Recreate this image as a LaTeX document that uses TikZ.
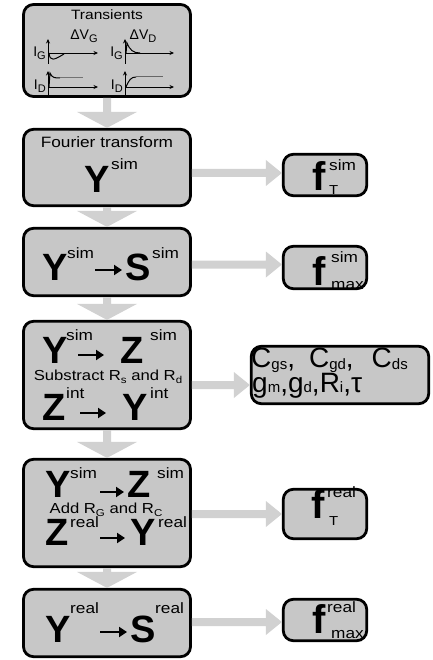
\documentclass[tikz,border=0pt]{standalone}
\usepackage{fontspec}
\setmainfont{Liberation Sans}
\newfontfamily\wf[FakeStretch=1.15]{Liberation Sans}
\usetikzlibrary{arrows.meta,calc}
\newcommand\fs[1]{\fontsize{#1}{#1}\selectfont}
\newcommand\lo[2]{\raisebox{-#1}{#2}}
\newcommand\varrow[2]{\fill[flow] let \p1=(#1.south), \p2=(#2.north) in
  (\x1-4pt,\y1) -- (\x1+4pt,\y1) -- (\x1+4pt,\y2+16pt) -- (\x1+30pt,\y2+16pt) -- (\x1,\y2)
  -- (\x1-30pt,\y2+16pt) -- (\x1-4pt,\y2+16pt) -- cycle;}
\newcommand\harrow[3]{\fill[flow] let \p1=(#1.east), \p2=(#2.west), \n1={\y2+#3} in
  (\x1,\n1+4pt) -- (\x2-16pt,\n1+4pt) -- (\x2-16pt,\n1+13pt) -- (\x2,\n1)
  -- (\x2-16pt,\n1-13pt) -- (\x2-16pt,\n1-4pt) -- (\x1,\n1-4pt) -- cycle;}
\begin{document}
\begin{tikzpicture}[x=1pt,y=-1pt,
 box/.style={draw, line width=2.8pt, rounded corners=10pt, fill=black!22, inner sep=0pt},
 big/.style={font=\fs{38}\bfseries, inner sep=0pt, anchor=base west},
 sup/.style={font=\wf\fs{15}, inner sep=0pt, anchor=base west},
 fbig/.style={font=\fs{40}\bfseries, inner sep=0pt, anchor=base west},
 lbl/.style={font=\wf\fs{14.5}, inner sep=0pt},
 small/.style={font=\fs{14}, inner sep=0pt},
 flow/.style={fill=black!18},
 inarrow/.style={line width=2.6pt, -{Triangle[length=8pt,width=10pt]}},
 ax/.style={line width=0.9pt, -{Stealth[length=4.5pt,width=4pt]}},
 curve/.style={line width=1pt},
]
\useasboundingbox (0,0) rectangle (432,660);
% left column boxes
\node[box, minimum width=167pt, minimum height=92pt] (b1) at (107,50.5) {};
\node[box, minimum width=167pt, minimum height=76.4pt] (b2) at (107,167.5) {};
\node[box, minimum width=167pt, minimum height=67.4pt] (b3) at (107,262) {};
\node[box, minimum width=167pt, minimum height=107.4pt] (b4) at (107,375) {};
\node[box, minimum width=167pt, minimum height=107.4pt] (b5) at (107,513) {};
\node[box, minimum width=167pt, minimum height=67.4pt] (b6) at (107,623) {};
% right column boxes
\node[box, minimum width=83.4pt, minimum height=41.4pt] (r1) at (325,175) {};
\node[box, minimum width=83.4pt, minimum height=42.4pt] (r2) at (325,267.5) {};
\node[box, minimum width=177.4pt, minimum height=57.4pt] (r3) at (340,375) {};
\node[box, minimum width=83.4pt, minimum height=49.4pt] (r4) at (325,514) {};
\node[box, minimum width=83.4pt, minimum height=41.4pt] (r5) at (325,620) {};
% flow arrows
\varrow{b1}{b2}
\varrow{b2}{b3}
\varrow{b3}{b4}
\varrow{b4}{b5}
\varrow{b5}{b6}
\harrow{b2}{r1}{2pt}
\harrow{b3}{r2}{3pt}
\harrow{b4}{r3}{-10pt}
\harrow{b5}{r4}{0pt}
\harrow{b6}{r5}{-2pt}
% box 1: transients
\node[lbl, font=\wf\fs{13.5}] (tt) at (107,15) {Transients};
\node[small] (dvg) at (84,36) {ΔV\lo{3pt}{\fs{11}G}};
\node[small] (dvd) at (143,36) {ΔV\lo{3pt}{\fs{11}D}};
\node[small, anchor=east] (ig1) at (46,53) {I\lo{3pt}{\fs{11}G}};
\node[small, anchor=east] (id1) at (46,86) {I\lo{3pt}{\fs{11}D}};
\node[small, anchor=east] (ig2) at (123,53) {I\lo{3pt}{\fs{11}G}};
\node[small, anchor=east] (id2) at (123,86) {I\lo{3pt}{\fs{11}D}};
\draw[ax] (48,64) -- (48,39);
\draw[ax] (48,53) -- (98,53);
\draw[ax] (48,95) -- (48,71);
\draw[ax] (48,87) -- (98,87);
\draw[ax] (125,64) -- (125,39);
\draw[ax] (125,53) -- (174,53);
\draw[ax] (125,95) -- (125,71);
\draw[ax] (125,87) -- (174,87);
\draw[curve] (49,53) .. controls (50,62) and (54,60) .. (64,54);
\draw[curve] (49,87) -- (50,73) .. controls (52,78) and (55,78) .. (60,78);
\draw[curve, black!55] (60,78) -- (83,78);
\draw[curve] (126,53) -- (127,43) .. controls (130,50) and (133,53) .. (140,53);
\draw[curve] (126,87) .. controls (129,80) and (131,77) .. (136,77);
\draw[curve, black!60] (136,77) -- (163,77);
% box 2
\node[lbl, font=\wf\fs{15}] (ft) at (107,142) {Fourier transform};
\node[big] (y2) at (84,193) {Y};
\node[sup] (y2s) at (111,170) {sim};
% box 3
\node[big] (y3) at (42,280) {Y};
\node[sup] (y3s) at (67,258) {sim};
\node[big] (s3) at (125,280) {S};
\node[sup] (s3s) at (152,258) {sim};
\draw[inarrow] (95,270) -- (122,270);
% box 4
\node[big] (y4) at (42,363) {Y};
\node[sup] (y4s) at (66,340) {sim};
\node[big] (z4) at (120,363) {Z};
\node[sup] (z4s) at (150,340) {sim};
\draw[inarrow] (78,355) -- (104,355);
\node[lbl] (sub4) at (108,377) {Substract R\lo{3pt}{\fs{10}s} and R\lo{3pt}{\fs{10}d}};
\node[big] (z4b) at (42,420) {Z};
\node[sup] (z4bs) at (66,398) {int};
\node[big] (y4b) at (122,420) {Y};
\node[sup] (y4bs) at (150,398) {int};
\draw[inarrow] (80,413) -- (106,413);
% box 5
\node[big] (y5) at (45,497) {Y};
\node[sup] (y5s) at (70,478) {sim};
\node[big] (z5) at (127,497) {Z};
\node[sup] (z5s) at (157,478) {sim};
\draw[inarrow] (100,492) -- (124,492);
\node[lbl] (add5) at (106,510) {Add R\lo{3pt}{\fs{10}G} and R\lo{3pt}{\fs{10}C}};
\node[big] (z5b) at (45,545) {Z};
\node[sup] (z5bs) at (70,527) {real};
\node[big] (y5b) at (130,545) {Y};
\node[sup] (y5bs) at (158,527) {real};
\draw[inarrow] (100,538) -- (125,538);
% box 6
\node[big] (y6) at (45,642) {Y};
\node[sup] (y6s) at (70,613) {real};
\node[big] (s6) at (130,642) {S};
\node[sup] (s6s) at (155,613) {real};
\draw[inarrow] (100,632) -- (127,632);
% right boxes text
\node[fbig] (f1) at (312,190) {f};
\node[sup] (f1a) at (329,171) {sim};
\node[sup, font=\wf\fs{13}] (f1b) at (329,194) {T};
\node[fbig] (f2) at (312,285) {f};
\node[sup] (f2a) at (331,262) {sim};
\node[sup] (f2b) at (331,289) {max};
\node[fbig] (f4) at (311,518) {f};
\node[sup] (f4a) at (327,497) {real};
\node[sup, font=\wf\fs{13}] (f4b) at (329,525) {T};
\node[fbig] (f5) at (312,633) {f};
\node[sup] (f5a) at (327,612) {real};
\node[sup] (f5b) at (331,638) {max};
\node[font=\fs{28}, inner sep=0pt, anchor=base west] (c1) at (251,367)
  {C\lo{2pt}{\fs{15}gs},\hspace{14pt}C\lo{2pt}{\fs{15}gd},\hspace{18pt}C\lo{2pt}{\fs{15}ds}};
\node[font=\fs{28}, inner sep=0pt, anchor=base west] (c2) at (252,392)
  {g{\fs{15}m},g{\fs{15}d},R{\fs{15}i},τ};
\end{tikzpicture}
\end{document}
